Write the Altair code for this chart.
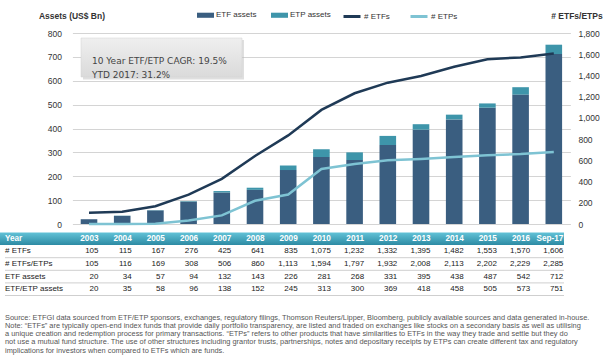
import altair as alt
import pandas as pd

# ---------------- data ----------------
years = ["2003", "2004", "2005", "2006", "2007", "2008", "2009", "2010",
         "2011", "2012", "2013", "2014", "2015", "2016", "Sep-17"]
n_etfs = [105, 115, 167, 276, 425, 641, 835, 1075, 1232, 1332, 1395, 1482, 1553, 1570, 1606]
n_etfs_etps = [105, 116, 169, 308, 506, 860, 1113, 1594, 1797, 1932, 2008, 2113, 2202, 2229, 2285]
etf_assets = [20, 34, 57, 94, 132, 143, 226, 281, 268, 331, 395, 438, 487, 542, 712]
etf_etp_assets = [20, 35, 58, 96, 138, 152, 245, 313, 300, 369, 418, 458, 505, 573, 751]

bar_series = ["ETF assets", "ETP assets"]
line_series = ["# ETFs", "# ETPs"]
bar_colors = ["#3A5E80", "#3E95AA"]
line_colors = ["#1F3A56", "#7EC3D3"]

table_rows = ["Year", "# ETFs", "# ETFs/ETPs", "ETF assets", "ETF/ETP assets"]

cagr_text = ["10 Year ETF/ETP CAGR: 19.5%", "YTD 2017: 31.2%"]
notes = [
    "Source: ETFGI data sourced from ETF/ETP sponsors, exchanges, regulatory filings, Thomson Reuters/Lipper, Bloomberg, publicly available sources and data generated in-house.",
    "Note: \u201cETFs\u201d are typically open-end index funds that provide daily portfolio transparency, are listed and traded on exchanges like stocks on a secondary basis as well as utilising",
    "a unique creation and redemption process for primary transactions. \u201cETPs\u201d refers to other products that have similarities to ETFs in the way they trade and settle but they do",
    "not use a mutual fund structure. The use of other structures including grantor trusts, partnerships, notes and depositary receipts by ETPs can create different tax and regulatory",
    "implications for investors when compared to ETFs which are funds.",
]

FONT = "Liberation Sans"
W, H = 498, 191
PAD_L, PAD_T = 72.4, 33

# ---------------- frames ----------------
etp_only = [t - e for t, e in zip(etf_etp_assets, etf_assets)]
bars_df = pd.DataFrame({
    "year": years * 2,
    "series": [bar_series[0]] * len(years) + [bar_series[1]] * len(years),
    "value": etf_assets + etp_only,
    "ord": [0] * len(years) + [1] * len(years),
})
n_etps = [a - b for a, b in zip(n_etfs_etps, n_etfs)]
lines_df = pd.DataFrame({
    "year": years * 2,
    "series": [line_series[0]] * len(years) + [line_series[1]] * len(years),
    "value": n_etfs + n_etps,
})

row_values = {
    "# ETFs": n_etfs,
    "# ETFs/ETPs": n_etfs_etps,
    "ETF assets": etf_assets,
    "ETF/ETP assets": etf_etp_assets,
}
head_df = pd.DataFrame({"row": ["Year"] * len(years), "year": years, "text": years})
body_recs = []
for name, arr in row_values.items():
    for y, v in zip(years, arr):
        body_recs.append({"row": name, "year": y, "text": f"{v:,}"})
body_df = pd.DataFrame(body_recs)

# ---------------- scales ----------------
xscale = alt.Scale(domain=years, paddingInner=0.5, paddingOuter=0.25)
tscale = alt.Scale(domain=table_rows, range=[199.5, 262.5], paddingInner=0, paddingOuter=0)

def X(**kw):
    return alt.X("year:N", sort=years, scale=xscale, axis=None, title=None, **kw)

# ---------------- chart parts ----------------
bars = alt.Chart(bars_df).mark_bar().encode(
    x=X(),
    y=alt.Y("value:Q", stack="zero",
            scale=alt.Scale(domain=[0, 800], nice=False),
            axis=alt.Axis(orient="left", values=list(range(0, 801, 100)), grid=True,
                          gridColor="#D4D4D4", gridWidth=1, tickSize=0, domain=False,
                          labelPadding=11, labelFont=FONT, labelFontSize=8.5,
                          labelColor="#333333", title="Assets (US$ Bn)", titleAngle=0,
                          titleAlign="left", titleBaseline="middle", titleX=-34,
                          titleY=-17.5, titleFont=FONT, titleFontSize=8.5,
                          titleFontWeight="bold", titleColor="#333333")),
    fill=alt.Fill("series:N", scale=alt.Scale(domain=bar_series, range=bar_colors),
                  legend=alt.Legend(orient="none", legendX=124.6, legendY=-26.5,
                                    direction="horizontal", title=None,
                                    symbolType="M-1,-0.3H1V0.3H-1Z", symbolSize=289,
                                    symbolStrokeWidth=0, labelFont=FONT, labelFontSize=8,
                                    labelColor="#333333", labelOffset=2,
                                    columnPadding=14, padding=0)),
    order=alt.Order("ord:Q", sort="ascending"),
)

lines = alt.Chart(lines_df).mark_line(strokeWidth=2.5).encode(
    x=X(bandPosition=0.5),
    y=alt.Y("value:Q", scale=alt.Scale(domain=[0, 1800], nice=False),
            axis=alt.Axis(orient="right", values=list(range(0, 1801, 200)), format=",d",
                          grid=False, tickSize=0, domain=False, labelPadding=7.5,
                          labelFont=FONT, labelFontSize=8.5, labelColor="#333333",
                          title="# ETFs/ETPs", titleAngle=0, titleAlign="left",
                          titleBaseline="middle", titleX=-19.7, titleY=-17.5,
                          titleFont=FONT, titleFontSize=8.5, titleFontWeight="bold",
                          titleColor="#333333")),
    stroke=alt.Stroke("series:N", scale=alt.Scale(domain=line_series, range=line_colors),
                      legend=alt.Legend(orient="none", legendX=269.6, legendY=-26.5,
                                        direction="horizontal", title=None,
                                        symbolType="stroke", symbolSize=289,
                                        symbolStrokeWidth=3, labelFont=FONT,
                                        labelFontSize=8, labelColor="#333333",
                                        labelOffset=2, columnPadding=14, padding=0)),
)

# annotation box
one = pd.DataFrame({"k": [0]})
box_grad = alt.LinearGradient(gradient="linear", x1=0, x2=0, y1=0, y2=1,
                              stops=[alt.GradientStop(color="#EFEFEF", offset=0),
                                     alt.GradientStop(color="#DADADA", offset=1)])
box_shadow = alt.Chart(one).mark_rect(fill="#B8B8B8", opacity=0.45).encode(
    x=alt.value(10.6), x2=alt.value(171.6), y=alt.value(7), y2=alt.value(46.5))
box = alt.Chart(one).mark_rect(fill=box_grad, stroke="#D0D0D0", strokeWidth=0.5).encode(
    x=alt.value(8.6), x2=alt.value(169.6), y=alt.value(5), y2=alt.value(44))
box_text = alt.Chart(one).mark_text(align="left", baseline="middle", font="DejaVu Sans",
                                    fontSize=9, color="#444444", lineBreak="\n",
                                    lineHeight=14).encode(
    x=alt.value(19.6), y=alt.value(28), text=alt.value("\n".join(cagr_text)))

# table
hdr_grad = alt.LinearGradient(gradient="linear", x1=0, x2=0, y1=0, y2=1,
                              stops=[alt.GradientStop(color="#62C2D7", offset=0),
                                     alt.GradientStop(color="#2C8AA3", offset=1)])
TY = lambda **kw: alt.Y("row:N", scale=tscale, axis=None, title=None, **kw)

hdr_rect = alt.Chart(pd.DataFrame({"row": ["Year"]})).mark_rect(fill=hdr_grad).encode(
    y=TY(), x=alt.value(-PAD_L), x2=alt.value(491.6))
seps = alt.Chart(pd.DataFrame({"row": table_rows[1:]})).mark_rule(
    color="#CFCFCF", strokeWidth=1).encode(
    y=TY(bandPosition=1), x=alt.value(-67.4), x2=alt.value(491.6))
hdr_label = alt.Chart(pd.DataFrame({"row": ["Year"]})).mark_text(
    align="left", baseline="middle", font=FONT, fontSize=8.2, fontWeight="bold",
    color="white").encode(y=TY(bandPosition=0.5), x=alt.value(-67.4), text="row:N")
body_label = alt.Chart(pd.DataFrame({"row": table_rows[1:]})).mark_text(
    align="left", baseline="middle", font=FONT, fontSize=8,
    color="#1A1A1A").encode(y=TY(bandPosition=0.5), x=alt.value(-67.4), text="row:N")
hdr_text = alt.Chart(head_df).mark_text(
    align="right", baseline="middle", dx=9.5, font=FONT, fontSize=8.2, fontWeight="bold",
    color="white").encode(y=TY(bandPosition=0.5), x=X(bandPosition=0.5), text="text:N")
body_text = alt.Chart(body_df).mark_text(
    align="right", baseline="middle", dx=9.5, font=FONT, fontSize=8,
    color="#1A1A1A").encode(y=TY(bandPosition=0.5), x=X(bandPosition=0.5), text="text:N")

table = alt.layer(hdr_rect, seps, hdr_label, body_label, hdr_text, body_text)

notes_layer = alt.Chart(one).mark_text(
    align="left", baseline="top", font=FONT, fontSize=7.4, color="#555555",
    lineBreak="\n", lineHeight=8.3).encode(
    x=alt.value(-67.4), y=alt.value(280.5), text=alt.value("\n".join(notes)))

chart = alt.layer(
    bars, lines, box_shadow, box, box_text, table, notes_layer
).resolve_scale(
    y="independent"
).properties(
    width=W, height=H,
    autosize=alt.AutoSizeParams(type="none"),
    padding={"left": PAD_L, "top": PAD_T, "right": 610 - PAD_L - W, "bottom": 357 - PAD_T - H},
    background="white",
).configure_view(stroke=None)

chart.save("out.html", embed_options={"renderer": "svg", "actions": False})
